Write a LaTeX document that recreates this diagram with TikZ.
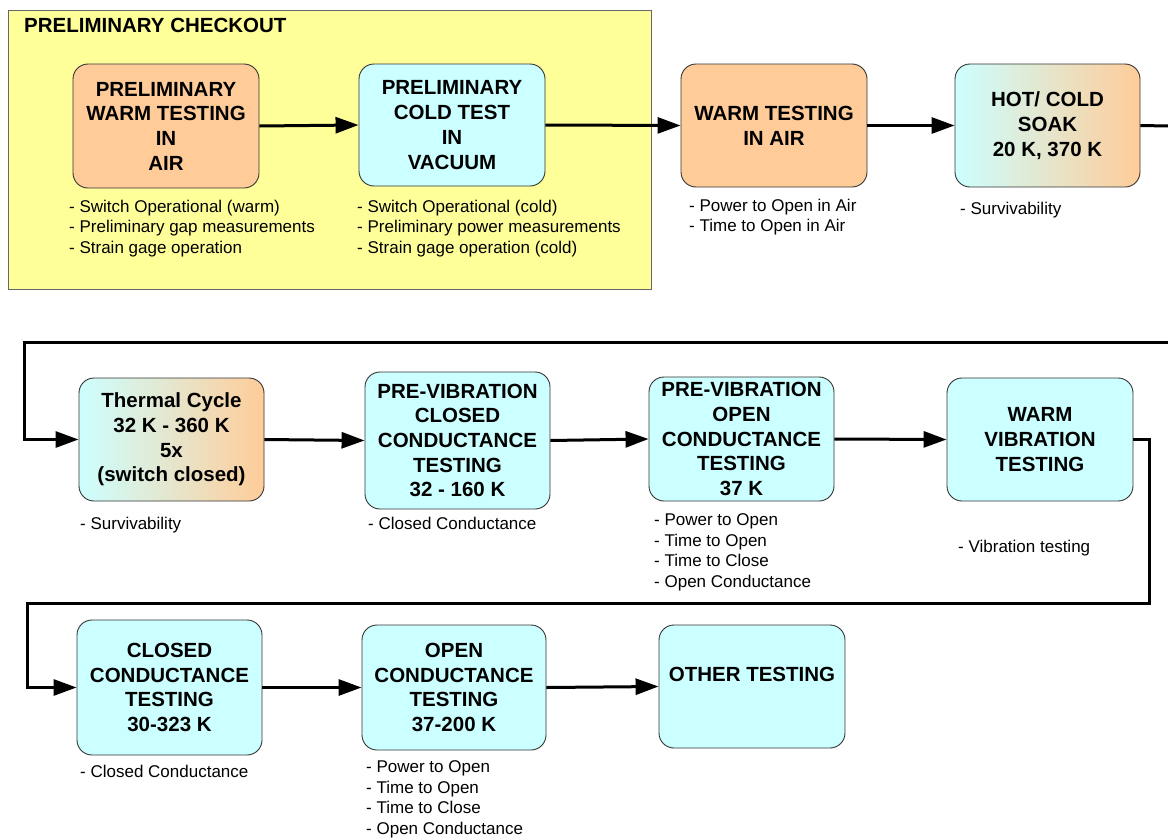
\documentclass[tikz,border=0pt]{standalone}
\usepackage{fontspec}
\setmainfont{Liberation Sans}
\usetikzlibrary{arrows.meta}
\definecolor{peach}{HTML}{FFCC99}
\definecolor{ice}{HTML}{CCFFFF}
\definecolor{pale}{HTML}{FFFF99}
\tikzset{
  boxbase/.style={draw=black!80, line width=0.9pt, rounded corners=15pt, inner sep=0pt,
    align=center, font=\fontsize{20.5}{24.7}\selectfont\bfseries},
  warmbox/.style={boxbase, fill=peach},
  coldbox/.style={boxbase, fill=ice},
  mixbox/.style={boxbase, left color=ice, right color=peach},
  note/.style={anchor=north west, inner sep=0pt, align=left, font=\fontsize{17}{20.5}\selectfont},
  conn/.style={line width=3pt, -{Triangle[length=23pt,width=16pt]}},
  plain/.style={line width=3pt},
}
\begin{document}
\begin{tikzpicture}[x=1pt,y=-1pt]
\useasboundingbox (0,0) rectangle (1168,838);
% group panel
\node[draw=black!60, line width=1pt, fill=pale, minimum width=643pt, minimum height=279pt, inner sep=0pt] (grp) at (329.5,149.5) {};
\node[anchor=west, inner sep=0pt, font=\fontsize{20.5}{24.7}\selectfont\bfseries] (grpt) at (24,25) {PRELIMINARY CHECKOUT};
% row 1
\node[warmbox, minimum width=186pt, minimum height=124pt] (b1) at (166,126) {PRELIMINARY\\WARM TESTING\\IN\\AIR};
\node[coldbox, minimum width=186pt, minimum height=122pt] (b2) at (452,125) {PRELIMINARY\\COLD TEST\\IN\\VACUUM};
\node[warmbox, minimum width=186pt, minimum height=123pt] (b3) at (774,125.5) {WARM TESTING\\IN AIR};
\node[mixbox, minimum width=185pt, minimum height=123pt] (b4) at (1047.5,125.5) {HOT/ COLD\\SOAK\\20 K, 370 K};
% row 2
\node[mixbox, minimum width=185pt, minimum height=123pt] (b5) at (171.5,439.5) {Thermal Cycle\\32 K - 360 K\\5x\\(switch closed)};
\node[coldbox, minimum width=185pt, minimum height=137pt] (b6) at (457.5,440.5) {PRE-VIBRATION\\CLOSED\\CONDUCTANCE\\TESTING\\32 - 160 K};
\node[coldbox, minimum width=185pt, minimum height=124pt] (b7) at (741.5,439) {PRE-VIBRATION\\OPEN\\CONDUCTANCE\\TESTING\\37 K};
\node[coldbox, minimum width=186pt, minimum height=123pt] (b8) at (1040,439.5) {WARM\\VIBRATION\\TESTING};
% row 3
\node[coldbox, minimum width=185pt, minimum height=135pt] (b9) at (169.5,687.5) {CLOSED\\CONDUCTANCE\\TESTING\\30-323 K};
\node[coldbox, minimum width=184pt, minimum height=125pt] (b10) at (454,687.5) {OPEN\\CONDUCTANCE\\TESTING\\37-200 K};
\node[coldbox, minimum width=186pt, minimum height=123pt] (b11) at (752,686.5) {};
\node[inner sep=0pt, font=\fontsize{20.5}{24.7}\selectfont\bfseries] (b11t) at (752,674) {OTHER TESTING};
% notes
\node[note] (n1) at (69,199.5) {- Switch Operational (warm)\\- Preliminary gap measurements\\- Strain gage operation};
\node[note] (n2) at (357,199.5) {- Switch Operational (cold)\\- Preliminary power measurements\\- Strain gage operation (cold)};
\node[note] (n3) at (689,198.5) {- Power to Open in Air\\- Time to Open in Air};
\node[note] (n4) at (960,201.5) {- Survivability};
\node[note] (n5) at (80,516.5) {- Survivability};
\node[note] (n6) at (368,516.5) {- Closed Conductance};
\node[note] (n7) at (654,513.5) {- Power to Open\\- Time to Open\\- Time to Close\\- Open Conductance};
\node[note] (n8) at (958,539.5) {- Vibration testing};
\node[note] (n9) at (80,764.5) {- Closed Conductance};
\node[note] (n10) at (366,760.5) {- Power to Open\\- Time to Open\\- Time to Close\\- Open Conductance};
% connector helper points
\coordinate (r1out) at (1168,126);
\coordinate (r2in) at (1168,342);
\coordinate (r2c) at (24,342);
\coordinate (r3a) at (1149,603);
\coordinate (r3b) at (27,603);
% connectors
\draw[conn] (b1.east) -- (b2.west);
\draw[conn] (b2.east) -- (b3.west);
\draw[conn] (b3.east) -- (b4.west);
\draw[plain] (b4.east) -- (r1out);
\draw[conn] (r2in) -- (r2c) |- (b5.west);
\draw[conn] (b5.east) -- (b6.west);
\draw[conn] (b6.east) -- (b7.west);
\draw[conn] (b7.east) -- (b8.west);
\draw[conn] (b8.east) -| (r3a) -- (r3b) |- (b9.west);
\draw[conn] (b9.east) -- (b10.west);
\draw[conn] (b10.east) -- (b11.west);
\end{tikzpicture}
\end{document}
